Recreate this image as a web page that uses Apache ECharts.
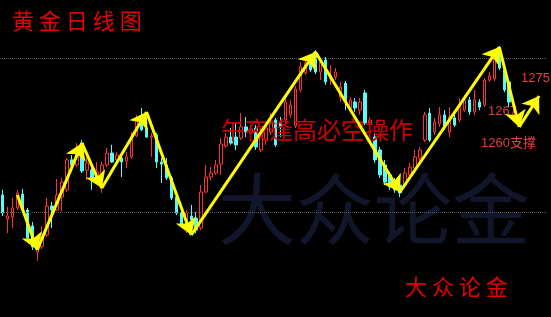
<!DOCTYPE html>
<html>
<head>
<meta charset="utf-8">
<script src="https://cdn.jsdelivr.net/npm/echarts@6/dist/echarts.min.js"></script>
<style>html,body{margin:0;padding:0;background:#000;}#c{width:551px;height:317px;}</style>
</head>
<body>
<div id="c"></div>
<script>
// Daily candles: open / close / low / high
const opens = [
1235.0,1227.0,1227.7,1230.7,1235.3,1230.0,1224.7,1216.0,1217.7,1221.7,
1231.3,1230.0,1234.3,1236.7,1246.7,1245.0,1252.3,1243.3,1243.3,1240.0,
1242.3,1245.0,1249.0,1246.7,1247.3,1246.3,1247.7,1254.7,1261.0,1257.3,
1254.3,1255.0,1246.0,1245.0,1240.7,1234.3,1229.0,1225.0,1228.0,1227.3,
1224.0,1236.0,1241.0,1242.3,1245.3,1251.3,1254.3,1254.3,1254.0,1257.7,
1255.7,1257.3,1250.0,1253.3,1256.0,1260.0,1259.3,1260.0,1261.7,1258.0,
1270.0,1275.7,1279.0,1282.3,1276.0,1280.0,1273.7,1274.3,1267.7,1272.3,
1264.0,1266.0,1263.3,1269.0,1259.0,1254.3,1250.0,1245.0,1241.7,1239.3,
1238.3,1238.3,1241.7,1244.0,1247.3,1253.3,1262.3,1256.0,1258.7,1261.7,
1256.0,1260.7,1260.0,1263.3,1266.7,1262.7,1266.0,1265.0,1273.3,1273.7,
1283.3,1276.7,1272.7];
const closes = [
1229.0,1228.0,1230.7,1235.7,1230.0,1220.7,1217.7,1219.3,1221.7,1231.3,
1230.0,1235.0,1239.3,1246.7,1245.0,1250.0,1243.0,1245.7,1240.0,1242.7,
1245.0,1249.0,1246.0,1248.3,1246.0,1247.7,1254.3,1260.0,1256.7,1254.3,
1254.7,1246.0,1245.3,1240.7,1234.0,1229.0,1225.0,1229.0,1226.7,1223.3,
1236.0,1241.0,1242.3,1245.0,1252.0,1254.3,1252.3,1251.7,1257.7,1256.0,
1257.0,1251.0,1255.7,1257.3,1259.0,1251.7,1257.7,1266.0,1265.0,1270.3,
1277.7,1279.0,1276.7,1276.0,1279.3,1272.7,1275.0,1276.0,1271.0,1266.0,
1266.7,1264.0,1266.0,1259.0,1260.0,1246.7,1241.7,1239.3,1237.7,1236.7,
1235.7,1242.3,1244.3,1247.7,1250.0,1261.7,1253.3,1259.3,1261.7,1257.7,
1261.0,1258.3,1264.3,1266.7,1262.7,1266.7,1264.3,1273.3,1274.7,1281.7,
1277.3,1270.0,1266.0];
const lows = [
1228.0,1222.3,1224.0,1230.0,1229.3,1220.0,1216.7,1213.0,1217.0,1221.0,
1224.0,1229.7,1229.7,1236.0,1242.7,1244.3,1242.3,1240.0,1236.7,1239.0,
1235.7,1244.3,1245.7,1245.7,1241.0,1244.0,1247.0,1254.3,1256.3,1254.0,
1247.7,1244.0,1239.0,1240.0,1233.3,1228.3,1224.3,1222.3,1226.0,1222.3,
1223.3,1235.7,1240.0,1241.7,1241.7,1250.7,1251.7,1250.0,1253.3,1254.3,
1254.0,1250.0,1249.3,1251.7,1255.0,1251.0,1254.3,1258.3,1260.7,1257.3,
1269.3,1275.0,1276.0,1275.3,1273.3,1271.7,1271.7,1273.3,1266.0,1263.3,
1262.7,1262.7,1261.7,1258.3,1258.0,1245.7,1240.7,1238.3,1236.7,1235.7,
1234.3,1237.3,1240.7,1242.7,1246.3,1252.7,1252.7,1255.0,1257.7,1256.7,
1254.3,1257.7,1259.3,1262.7,1261.7,1261.7,1263.3,1264.3,1272.7,1273.0,
1276.7,1269.3,1264.3];
const highs = [
1236.7,1231.0,1234.0,1236.7,1237.0,1230.7,1226.0,1220.7,1224.7,1234.0,
1232.7,1240.3,1240.7,1247.3,1248.3,1252.3,1253.3,1247.3,1245.0,1246.0,
1246.0,1250.7,1251.7,1249.3,1248.3,1249.3,1256.0,1261.7,1264.0,1260.7,
1255.7,1255.7,1247.3,1247.3,1241.3,1235.0,1230.0,1230.0,1231.7,1229.3,
1238.3,1245.0,1244.3,1246.7,1254.0,1255.7,1257.3,1259.0,1262.3,1261.0,
1258.3,1258.3,1257.3,1258.7,1262.3,1260.7,1261.0,1267.3,1266.7,1271.3,
1279.3,1280.0,1280.7,1283.3,1280.7,1281.0,1278.3,1277.3,1272.7,1273.0,
1267.7,1267.3,1267.3,1270.0,1261.0,1255.7,1251.0,1246.7,1242.7,1240.7,
1240.0,1244.0,1245.7,1250.0,1251.0,1262.7,1264.0,1260.7,1264.3,1263.3,
1264.3,1262.3,1267.3,1268.3,1267.7,1270.0,1267.0,1274.0,1276.0,1282.7,
1284.7,1277.7,1273.3];
// Category slots (days, incl. a few future slots for the projected path)
const slotCount = 110;
const categories = Array.from({length: slotCount}, (_, i) => String(i));
// Dotted reference price levels
const levelLines = [1280.7, 1229.3];
// Yellow trend-arrow path (category index, price)
const arrowIdx = [3, 7, 16, 20, 29, 38, 63, 80, 100, 104, 108];
const arrowPrice = [1235.0, 1216.7, 1252.3, 1237.3, 1262.7, 1221.7, 1282.7, 1236.0, 1284.3, 1257.7, 1268.0];
// Text
const titleText = '黄 金 日 线 图';
const noteText = '午夜逢高必空操作';
const brandText = '大 众 论 金';
const watermarkText = '大众论金';
const levelLabels = ['1275', '1267', '1260支撑'];

const candleData = opens.map((o, i) => [o, closes[i], lows[i], highs[i]]);
const arrowSegs = [];
for (let i = 0; i < arrowIdx.length - 1; i++) {
  arrowSegs.push({coords: [[arrowIdx[i], arrowPrice[i]], [arrowIdx[i + 1], arrowPrice[i + 1]]]});
}

const CJK = '"Noto Sans CJK SC"';
const chart = echarts.init(document.getElementById('c'), null, {renderer: 'canvas'});
chart.setOption({
  animation: false,
  backgroundColor: '#000000',
  grid: {left: -3.5, right: 4.5, top: 0, bottom: 0},
  xAxis: {type: 'category', data: categories, boundaryGap: true, show: false},
  yAxis: {type: 'value', min: 1194.333, max: 1300, show: false, splitLine: {show: false}},
  graphic: [
    {type: 'text', left: 218, top: 170, z: -10, silent: true,
     style: {text: watermarkText, fill: '#12162a', font: '78px ' + CJK}},
    {type: 'text', left: 12, top: 10, z: 5,
     style: {text: titleText, fill: '#e60000', font: '22px ' + CJK}},
    {type: 'text', left: 221, top: 118, z: 5,
     style: {text: noteText, fill: '#cc0000', font: '24px ' + CJK}},
    {type: 'text', left: 405, top: 276, z: 5,
     style: {text: brandText, fill: '#e60000', font: '22px ' + CJK}},
    {type: 'text', left: 521, top: 72, z: 5,
     style: {text: levelLabels[0], fill: '#e63c3c', font: '13px "Liberation Sans", ' + CJK}},
    {type: 'text', left: 488, top: 105, z: 5,
     style: {text: levelLabels[1], fill: '#e63c3c', font: '13px "Liberation Sans", ' + CJK}},
    {type: 'text', left: 481, top: 137, z: 5,
     style: {text: levelLabels[2], fill: '#e63c3c', font: '13px "Liberation Sans", ' + CJK}}
  ],
  series: [
    {
      type: 'candlestick',
      data: candleData,
      barWidth: 3,
      z: 2,
      itemStyle: {
        color: '#000000', borderColor: '#ff3232',
        color0: '#54fcfc', borderColor0: '#54fcfc', borderWidth: 1
      },
      markLine: {
        silent: true, symbol: 'none', label: {show: false},
        lineStyle: {color: '#5a5a5a', type: 'dotted', width: 1},
        data: levelLines.map(v => ({yAxis: v}))
      }
    },
    {
      type: 'lines',
      coordinateSystem: 'cartesian2d',
      z: 10,
      symbol: ['none', 'arrow'],
      symbolSize: 16,
      lineStyle: {color: '#ffff00', width: 3, opacity: 1, curveness: 0},
      data: arrowSegs
    }
  ]
});
</script>
</body>
</html>
